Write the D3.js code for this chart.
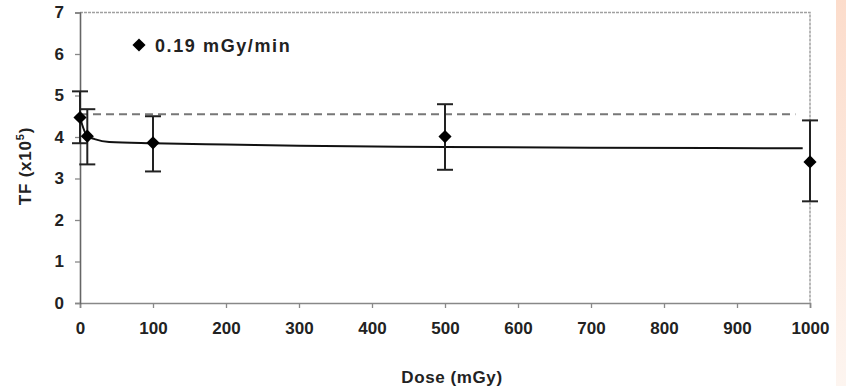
<!DOCTYPE html>
<html>
<head>
<meta charset="utf-8">
<script src="https://cdn.jsdelivr.net/npm/d3@7"></script>
<style>
  html, body { margin: 0; padding: 0; background: #fff; }
  svg { display: block; }
  text { font-family: "Liberation Sans", Arial, sans-serif; font-weight: bold; fill: #222; }
</style>
</head>
<body>
<svg id="chart" width="846" height="386"></svg>
<script>
// Measured points: dose (mGy), transformation frequency (x10^5) and error half-widths
const doses = [0, 10, 100, 500, 1000];
const tfValues = [4.47, 4.02, 3.86, 4.01, 3.40];
const errUpper = [0.63, 0.65, 0.64, 0.78, 1.00];
const errLower = [0.62, 0.68, 0.69, 0.80, 0.95];

// Fitted response curve
const fitDoses = [0, 10, 20, 40, 100, 200, 300, 500, 700, 990];
const fitValues = [4.47, 4.02, 3.95, 3.88, 3.85, 3.82, 3.79, 3.76, 3.74, 3.73];

// Control level (dashed reference)
const controlLevel = 4.55;
const controlEnd = 980;

const xTicks = [0, 100, 200, 300, 400, 500, 600, 700, 800, 900, 1000];
const yTicks = [0, 1, 2, 3, 4, 5, 6, 7];
const legendLabel = "0.19 mGy/min";

const svg = d3.select("#chart");

// Faint tinted strip along the right edge
const defs = svg.append("defs");
const grad = defs.append("linearGradient").attr("id", "edge").attr("x1", 0).attr("y1", 0).attr("x2", 0).attr("y2", 1);
grad.append("stop").attr("offset", "0%").attr("stop-color", "#fcdccb");
grad.append("stop").attr("offset", "100%").attr("stop-color", "#fdf5f0");
svg.append("rect").attr("x", 836).attr("y", 0).attr("width", 10).attr("height", 386).attr("fill", "url(#edge)");

const x = d3.scaleLinear().domain([0, 1000]).range([80, 810]);
const y = d3.scaleLinear().domain([0, 7]).range([303, 12.5]);

// Plot frame (top and right)
svg.append("path")
  .attr("d", `M${x(0)},${y(7)}H${x(1000)}V${y(0)}`)
  .attr("fill", "none").attr("stroke", "#a0a0a0").attr("stroke-width", 1.5)
  .attr("stroke-dasharray", "3,1");

const labelFont = "Liberation Sans, Arial, sans-serif";

// Axes
const xAxis = svg.append("g").attr("transform", `translate(0,${y(0)})`)
  .call(d3.axisBottom(x).tickValues(xTicks).tickSize(5).tickPadding(14).tickFormat(d3.format("d")));
xAxis.select(".domain").attr("stroke", "#888").attr("stroke-width", 1.6);
xAxis.selectAll(".tick line").attr("stroke", "#888").attr("stroke-width", 1.3);
xAxis.selectAll(".tick text").attr("font-size", 17).attr("font-family", labelFont)
  .attr("font-weight", "bold").attr("fill", "#222");

const yAxis = svg.append("g").attr("transform", `translate(${x(0)},0)`)
  .call(d3.axisLeft(y).tickValues(yTicks).tickSize(5).tickPadding(11).tickFormat(d3.format("d")));
yAxis.select(".domain").attr("stroke", "#666").attr("stroke-width", 1.6);
yAxis.selectAll(".tick line").attr("stroke", "#888").attr("stroke-width", 1.3);
yAxis.selectAll(".tick text").attr("font-size", 17).attr("font-family", labelFont)
  .attr("font-weight", "bold").attr("fill", "#222");

// Control level
svg.append("line")
  .attr("x1", x(0)).attr("x2", x(controlEnd))
  .attr("y1", y(controlLevel)).attr("y2", y(controlLevel))
  .attr("stroke", "#777").attr("stroke-width", 2).attr("stroke-dasharray", "8,5");

// Fitted curve
const line = d3.line().x((d, i) => x(fitDoses[i])).y(d => y(d)).curve(d3.curveMonotoneX);
svg.append("path").datum(fitValues)
  .attr("d", line).attr("fill", "none").attr("stroke", "#111").attr("stroke-width", 2);

// Error bars
const capW = 8;
const bars = svg.append("g").attr("stroke", "#222").attr("stroke-width", 2);
doses.forEach((d, i) => {
  const cx = x(d), top = y(tfValues[i] + errUpper[i]), bot = y(tfValues[i] - errLower[i]);
  bars.append("line").attr("x1", cx).attr("x2", cx).attr("y1", top).attr("y2", bot);
  bars.append("line").attr("x1", cx - capW).attr("x2", cx + capW).attr("y1", top).attr("y2", top);
  bars.append("line").attr("x1", cx - capW).attr("x2", cx + capW).attr("y1", bot).attr("y2", bot);
});

// Diamond markers
const diamond = d3.symbol().type(d3.symbolDiamond2).size(110);
svg.append("g").selectAll("path").data(doses).join("path")
  .attr("d", diamond)
  .attr("transform", (d, i) => `translate(${x(d)},${y(tfValues[i])})`)
  .attr("fill", "#000");

// Legend
svg.append("path").attr("d", diamond).attr("transform", "translate(139,45)").attr("fill", "#000");
svg.append("text").attr("x", 155).attr("y", 51.5).attr("font-size", 18).attr("letter-spacing", 1.6)
  .text(legendLabel);

// Axis titles
svg.append("text").attr("x", 452).attr("y", 383).attr("text-anchor", "middle").attr("font-size", 17)
  .attr("letter-spacing", 0.6).text("Dose (mGy)");
const yl = svg.append("text").attr("transform", "translate(31,166) rotate(-90)")
  .attr("text-anchor", "middle").attr("font-size", 17).attr("letter-spacing", 0.8);
yl.append("tspan").text("TF (x10");
yl.append("tspan").attr("dy", -7).attr("font-size", 11).text("5");
yl.append("tspan").attr("dy", 7).text(")");
</script>
</body>
</html>
